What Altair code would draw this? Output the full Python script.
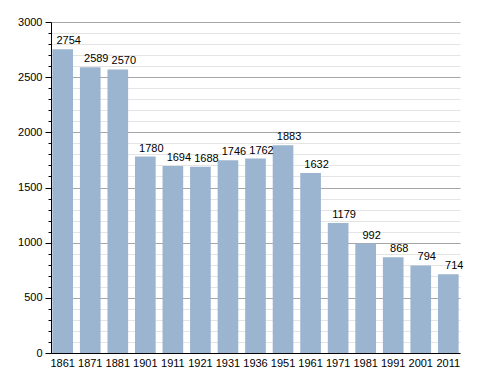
import altair as alt
import pandas as pd

years = ["1861", "1871", "1881", "1901", "1911", "1921", "1931", "1936",
         "1951", "1961", "1971", "1981", "1991", "2001", "2011"]
population = [2754, 2589, 2570, 1780, 1694, 1688, 1746, 1762,
              1883, 1632, 1179, 992, 868, 794, 714]

df = pd.DataFrame({"year": years, "pop": population})

FONT = "Liberation Sans"
major = "datum.value % 500 === 0"

x = alt.X("year:N", sort=years, title=None,
          scale=alt.Scale(paddingInner=0.25, paddingOuter=0.05),
          axis=alt.Axis(labelAngle=0, ticks=False, labelPadding=4,
                        domainColor="#000", labelColor="#000",
                        labelFont=FONT, labelFontSize=11))

y = alt.Y("pop:Q", title=None,
          scale=alt.Scale(domain=[0, 3000], nice=False),
          axis=alt.Axis(values=list(range(0, 3001, 100)),
                        format="d",
                        labelExpr="datum.value % 500 === 0 ? datum.label : ''",
                        labelOverlap=False,
                        labelBound=False,
                        grid=True,
                        gridColor={"condition": {"test": major, "value": "#a6a6a6"}, "value": "#e4e4e4"},
                        tickSize={"condition": {"test": major, "value": 6}, "value": 3},
                        tickColor="#000", domainColor="#000", labelColor="#000",
                        labelPadding=3, labelFont=FONT, labelFontSize=11))

base = alt.Chart(df).encode(x=x, y=y)
bars = base.mark_bar(color="#9bb4d0")
labels = base.mark_text(baseline="bottom", align="center", dx=6, dy=-3,
                        font=FONT, fontSize=11, color="#000").encode(text="pop:Q")

chart = alt.layer(bars, labels).properties(
    width=409, height=331,
    autosize=alt.AutoSizeParams(type="none"),
    padding={"left": 43, "top": 14, "right": 20, "bottom": 20},
).configure_view(stroke=None).configure_axis(gridWidth=1)

chart.save("out.html", embed_options={"renderer": "svg", "actions": False})
